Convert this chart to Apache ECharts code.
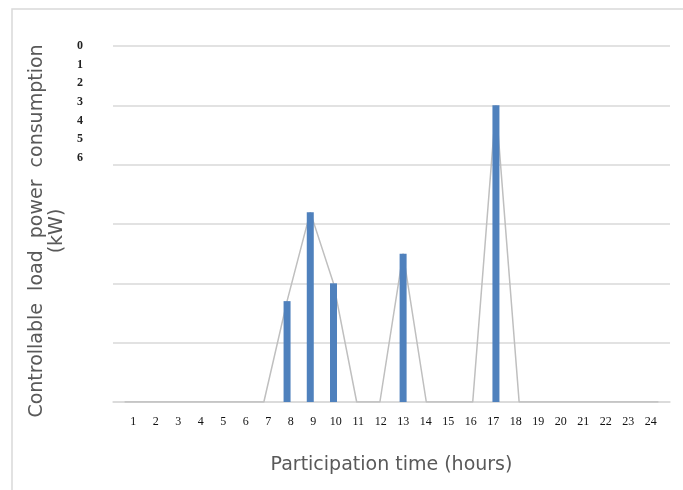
<!DOCTYPE html>
<html>
<head>
<meta charset="utf-8">
<script src="https://cdn.jsdelivr.net/npm/echarts@6/dist/echarts.min.js"></script>
<style>
  html, body { margin: 0; padding: 0; background: #fff; }
  #main { width: 683px; height: 490px; }
</style>
</head>
<body>
<div id="main"></div>
<script>
// hours 1..24
const hours = ['1', '2', '3', '4', '5', '6', '7', '8', '9', '10', '11', '12',
  '13', '14', '15', '16', '17', '18', '19', '20', '21', '22', '23', '24']
// controllable load power (kW)
const loadPower = [0, 0, 0, 0, 0, 0, 0, 1.7, 3.2, 2.0, 0, 0,
  2.5, 0, 0, 0, 5.0, 0, 0, 0, 0, 0, 0, 0]
// the stray tick labels stacked in the top-left corner
const yTickLabels = ['0', '1', '2', '3', '4', '5', '6']

const chart = echarts.init(document.getElementById('main'))

const serif = "'Liberation Serif', 'DejaVu Serif', serif"
const sans = "'DejaVu Sans', 'Liberation Sans', sans-serif"

chart.setOption({
  animation: false,
  backgroundColor: '#fff',
  graphic: [{
    type: 'rect',
    shape: { x: 12, y: 9, width: 700, height: 500 },
    style: { fill: 'none', stroke: '#d9d9d9', lineWidth: 1.5 },
    silent: true
  }],
  grid: [
    { left: 113, right: 13, top: 46, bottom: 88 },
    // small grid only used for the misplaced 0..6 labels
    { left: 88, width: 10, top: 46, height: 112 },
    // hour labels sit slightly inside the plot, like in the original
    { left: 122, right: 21, top: 46, bottom: 88 }
  ],
  xAxis: [{
    type: 'category',
    gridIndex: 0,
    data: hours,
    name: 'Participation time (hours)',
    nameLocation: 'middle',
    nameGap: 54,
    nameTextStyle: { fontFamily: sans, fontSize: 19, color: '#595959' },
    axisLine: { lineStyle: { color: '#d9d9d9', width: 1.5 } },
    axisTick: { show: false },
    axisLabel: { show: false }
  }, {
    type: 'category',
    gridIndex: 1,
    show: false,
    data: ['']
  }, {
    type: 'category',
    gridIndex: 2,
    data: hours,
    axisLine: { show: false },
    axisTick: { show: false },
    axisLabel: { fontFamily: serif, fontSize: 12, color: '#111', margin: 14, interval: 0 }
  }],
  yAxis: [{
    type: 'value',
    gridIndex: 0,
    min: 0,
    max: 6,
    interval: 1,
    name: 'Controllable  load  power  consumption\n(kW)',
    nameLocation: 'middle',
    nameGap: 46,
    nameTextStyle: { fontFamily: sans, fontSize: 19, color: '#595959', lineHeight: 20, padding: [0, 14, 0, 0] },
    axisLine: { show: false },
    axisTick: { show: false },
    axisLabel: { show: false },
    splitLine: { lineStyle: { color: '#d9d9d9', width: 1.5 } }
  }, {
    type: 'category',
    gridIndex: 1,
    data: yTickLabels,
    inverse: true,
    boundaryGap: false,
    axisLine: { show: false },
    axisTick: { show: false },
    splitLine: { show: false },
    axisLabel: { fontFamily: serif, fontSize: 12, fontWeight: 'bold', color: '#222', margin: 5, interval: 0 }
  }, {
    type: 'value',
    gridIndex: 2,
    show: false,
    min: 0,
    max: 6
  }],
  series: [{
    type: 'line',
    xAxisIndex: 0,
    yAxisIndex: 0,
    data: loadPower,
    symbol: 'none',
    z: 1,
    lineStyle: { color: '#bfbfbf', width: 1.5 }
  }, {
    type: 'bar',
    xAxisIndex: 0,
    yAxisIndex: 0,
    data: loadPower,
    barWidth: 7,
    z: 3,
    itemStyle: { color: '#4f81bd' }
  }]
})
</script>
</body>
</html>
